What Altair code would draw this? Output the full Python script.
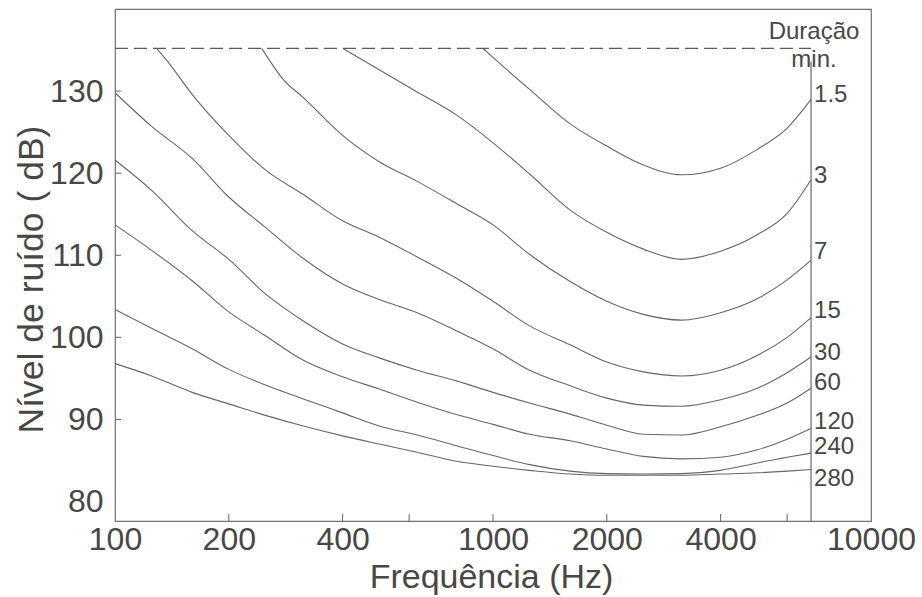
import altair as alt
import pandas as pd

# ---------------- data ----------------
DURATIONS = ["1.5", "3", "7", "15", "30", "60", "120", "240", "280"]

FREQ_COMMON = [100, 125, 160, 200, 250, 315, 400, 500, 630, 800, 1000,
               1250, 1600, 2000, 2500, 3150, 4000, 5000, 6000, 6940]

freq_1_5 = [940.8, 1000, 1250, 1600, 2000, 2500, 3150, 4000, 5000, 6000, 6940]
db_1_5 = [135.2, 134.1, 130.2, 126.0, 123.3, 121.0, 119.8, 120.6, 122.9, 125.5, 129.0]

freq_3 = [401, 500, 630, 800, 1000, 1250, 1600, 2000, 2500, 3150, 4000, 5000, 6000, 6940]
db_3 = [135.2, 132.6, 129.9, 127.1, 123.7, 119.9, 115.5, 112.8, 110.75, 109.5, 110.5, 112.5, 115.1, 119.2]

freq_7 = [244.4, 250, 280, 315, 400, 500, 630, 800, 1000, 1250, 1600, 2000, 2500, 3150,
          4000, 5000, 6000, 6940]
db_7 = [135.2, 134.5, 131.3, 129.2, 124.6, 121.4, 119.0, 116.3, 113.7, 110.1, 106.8, 104.4,
        102.8, 102.1, 103.0, 104.7, 107.0, 109.4]

freq_15 = [128.9, 140, 160, 200, 250, 315, 400, 500, 630, 800, 1000, 1250, 1600, 2000, 2500,
           3150, 4000, 5000, 6000, 6940]
db_15 = [135.2, 133.2, 129.6, 124.6, 120.4, 117.4, 114.2, 112.2, 109.8, 107.2, 104.4, 101.4,
         99.1, 97.0, 95.8, 95.3, 96.0, 97.8, 100.0, 102.4]

db_30 = [129.8, 125.7, 121.8, 117.1, 113.4, 109.6, 106.5, 104.6, 103.0, 100.8, 98.6, 96.0,
         94.1, 92.6, 91.75, 91.6, 92.4, 93.8, 95.7, 97.6]
db_60 = [121.6, 117.9, 113.0, 109.5, 105.3, 102.0, 99.2, 97.5, 96.0, 94.7, 93.3, 92.0,
         90.65, 89.3, 88.2, 88.1, 89.1, 90.5, 92.0, 93.8]
db_120 = [113.7, 110.6, 106.9, 103.1, 100.2, 97.2, 95.2, 93.7, 92.1, 90.6, 89.4, 88.2,
          87.4, 86.4, 85.5, 85.2, 85.4, 86.3, 87.6, 88.9]
db_240 = [103.4, 101.1, 98.6, 96.1, 94.2, 92.5, 90.8, 89.2, 88.1, 86.8, 85.6, 84.5,
          83.7, 83.4, 83.35, 83.4, 83.8, 84.7, 85.4, 85.9]
db_280 = [96.8, 95.3, 93.3, 91.9, 90.5, 89.2, 88.0, 87.0, 86.0, 84.9, 84.3, 83.8,
          83.35, 83.2, 83.2, 83.2, 83.35, 83.5, 83.7, 83.9]

# label baselines (dB) at the right of the curves
LABEL_DB = [128.7, 118.8, 109.5, 102.3, 97.3, 93.6, 88.8, 85.8, 81.9]
HEADER_TEXT = ["Duração", "min."]
HEADER_DB = [136.4, 132.95]

LIMIT_DB = 135.2          # dashed limit line
F_START = 100
F_END = 6940              # right end of curves / vertical line
VLINE_TOP_DB = 133.6

X_DOMAIN = [100, 10000]
Y_DOMAIN = [77.63, 140]
X_LABELS = [100, 200, 400, 1000, 2000, 4000, 10000]
X_TICKS = [200, 400, 600, 1000, 2000, 4000, 6000]
Y_LABELS = [80, 90, 100, 110, 120, 130]
Y_TICKS = [90, 100, 110, 120, 130]

# ---------------- build tables ----------------
series = [
    (freq_1_5, db_1_5), (freq_3, db_3), (freq_7, db_7), (freq_15, db_15),
    (FREQ_COMMON, db_30), (FREQ_COMMON, db_60), (FREQ_COMMON, db_120),
    (FREQ_COMMON, db_240), (FREQ_COMMON, db_280),
]
rows = []
for dur, (fs, ds) in zip(DURATIONS, series):
    for f, d in zip(fs, ds):
        rows.append({"dur": dur, "freq": f, "db": d})
lines_df = pd.DataFrame(rows)

labels_df = pd.DataFrame({"freq": [F_END] * len(DURATIONS), "db": LABEL_DB, "txt": DURATIONS})
header_df = pd.DataFrame({"freq": [F_END] * 2, "db": HEADER_DB, "txt": HEADER_TEXT})
dash_df = pd.DataFrame({"freq": [F_START], "freq2": [F_END], "db": [LIMIT_DB]})
vline_df = pd.DataFrame({"freq": [F_END], "db": [Y_DOMAIN[0]], "db2": [VLINE_TOP_DB]})
xt_df = pd.DataFrame({"freq": X_TICKS})
yt_df = pd.DataFrame({"db": Y_TICKS})

# ---------------- styling ----------------
FONT = "Liberation Sans"
TXT = "#474747"
LINE = "#666666"
W, H = 756, 512

x_scale = alt.Scale(type="log", domain=X_DOMAIN, nice=False)
y_scale = alt.Scale(domain=Y_DOMAIN, nice=False, zero=False)

x_axis = alt.Axis(values=X_LABELS, format="d", ticks=False, tickSize=0, domain=False,
                  grid=False, labelFontSize=32, labelFont=FONT, labelColor=TXT,
                  labelPadding=3, labelFlush=False, labelOverlap=False,
                  title="Frequência (Hz)", titleFont=FONT, titleFontSize=34,
                  titleFontWeight="normal", titleColor=TXT, titleX=376, titleY=66,
                  titleBaseline="alphabetic", titleAlign="center")
y_axis = alt.Axis(values=Y_LABELS, format="d", ticks=False, tickSize=0, domain=False,
                  grid=False, labelFontSize=32, labelFont=FONT, labelColor=TXT,
                  labelPadding=12, labelFlush=False, labelOverlap=False,
                  title="Nível de ruído ( dB)", titleFont=FONT, titleFontSize=35.5,
                  titleFontWeight="normal", titleColor=TXT, titleX=-73, titleY=270,
                  titleAngle=270, titleBaseline="alphabetic", titleAlign="center")


def X(field="freq"):
    return alt.X(f"{field}:Q", scale=x_scale, axis=x_axis)


def Y(field="db"):
    return alt.Y(f"{field}:Q", scale=y_scale, axis=y_axis)


curves = alt.Chart(lines_df).mark_line(
    color=LINE, strokeWidth=1.1, interpolate="monotone"
).encode(x=X(), y=Y(), detail="dur:N", order="freq:Q")

dashed = alt.Chart(dash_df).mark_rule(
    color="#5a5a5a", strokeWidth=1.1, strokeDash=[13, 6]
).encode(x=X(), x2="freq2:Q", y=Y())

vline = alt.Chart(vline_df).mark_rule(color=LINE, strokeWidth=1.2).encode(
    x=X(), y=Y(), y2="db2:Q")

labels = alt.Chart(labels_df).mark_text(
    align="left", baseline="alphabetic", dx=3, font=FONT, fontSize=24, color=TXT
).encode(x=X(), y=Y(), text="txt:N")

header = alt.Chart(header_df).mark_text(
    align="center", baseline="alphabetic", dx=3, font=FONT, fontSize=24, color=TXT
).encode(x=X(), y=Y(), text="txt:N")

xticks = alt.Chart(xt_df).mark_rule(color="#6e6e6e", strokeWidth=1.1).encode(
    x=X(), y=alt.value(H), y2=alt.value(H - 7))

yticks = alt.Chart(yt_df).mark_rule(color="#6e6e6e", strokeWidth=1.1).encode(
    y=Y(), x=alt.value(0), x2=alt.value(6))

chart = alt.layer(curves, dashed, vline, labels, header, xticks, yticks).properties(
    width=W, height=H,
    padding={"left": 115, "top": 9, "right": 51, "bottom": 76},
    autosize=alt.AutoSizeParams(type="none"),
    background="white",
).configure_view(stroke="#6e6e6e", strokeWidth=1.2)

chart.save("out.html", embed_options={"renderer": "svg", "actions": False})
